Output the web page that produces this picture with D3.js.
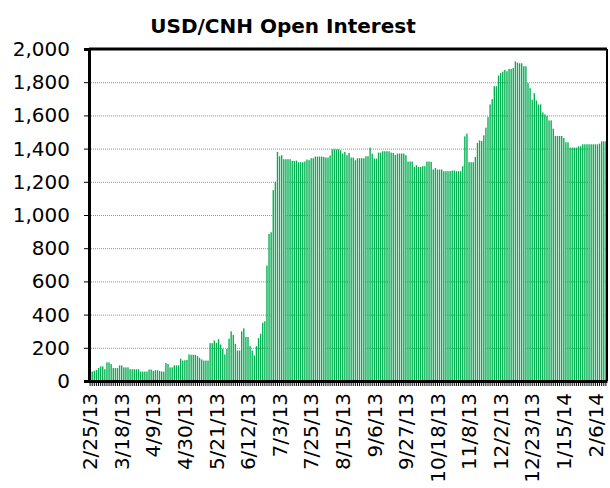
<!DOCTYPE html>
<html>
<head>
<meta charset="utf-8">
<script src="https://cdn.jsdelivr.net/npm/d3@7"></script>
<style>
  body { margin: 0; background: #fff; }
  svg { display: block; font-family: 'DejaVu Sans', Verdana, sans-serif; }
</style>
</head>
<body>
<svg id="chart" width="610" height="488"></svg>
<script>
// daily open interest, 2/25/13 .. mid Feb 2014
let openInterest = [
  57, 57, 61, 67, 78, 88, 88, 71, 112, 112,
  102, 78, 78, 78, 94, 94, 82, 82, 82, 71,
  71, 71, 71, 71, 57, 57, 57, 57, 69, 69,
  61, 65, 65, 61, 57, 57, 108, 102, 82, 82,
  94, 94, 94, 135, 123, 125, 127,
  160, 158, 158, 158, 150, 140, 130, 123, 123, 123,
  228, 228, 244, 230, 252, 220, 194, 160, 194, 255,
  299, 277, 224, 184, 184, 299, 317, 265, 265, 210,
  184, 154, 210, 258, 285, 351, 360,
  696, 886, 896, 1150, 1200,
  1380, 1354, 1360, 1336, 1336, 1336, 1336, 1326, 1326, 1328,
  1318, 1318, 1318, 1322, 1334, 1330, 1342, 1342, 1352, 1352,
  1352, 1352, 1350, 1346, 1346, 1358, 1396, 1396, 1396, 1396,
  1390, 1370, 1380, 1360, 1374, 1346, 1346, 1330, 1342, 1342,
  1342, 1342, 1354, 1354, 1406, 1370, 1340, 1340, 1376, 1376,
  1384, 1384, 1384, 1384, 1376, 1374, 1362, 1370, 1370, 1370,
  1370, 1360, 1322, 1322, 1322, 1290, 1300, 1290, 1290, 1294,
  1294, 1322, 1322,
  1320, 1274, 1284, 1274, 1274, 1274, 1264, 1264, 1264, 1264,
  1268, 1268, 1264, 1264, 1264, 1294, 1474, 1490, 1318, 1318,
  1318, 1350, 1434, 1450, 1446, 1480, 1526, 1590, 1666, 1698,
  1776, 1776, 1840, 1856, 1864, 1874, 1866, 1880, 1880, 1886,
  1926, 1918, 1914, 1914, 1896, 1896, 1794, 1764, 1694, 1734,
  1690, 1666, 1666, 1618, 1606, 1598, 1570, 1570, 1520, 1476,
  1476, 1476, 1476, 1464, 1438, 1438, 1406, 1406, 1406, 1406,
  1414, 1414, 1426, 1426, 1426, 1426, 1426, 1426, 1426, 1426,
  1430, 1444, 1444, 1444
]

// one label every 15 trading days
let dateLabels = ['2/25/13', '3/18/13', '4/9/13', '4/30/13', '5/21/13', '6/12/13',
  '7/3/13', '7/25/13', '8/15/13', '9/6/13', '9/27/13', '10/18/13', '11/8/13',
  '12/2/13', '12/23/13', '1/15/14', '2/6/14']
let labelStep = 15

let yTicks = [0, 200, 400, 600, 800, 1000, 1200, 1400, 1600, 1800, 2000]

let margin = {top: 49, right: 3, bottom: 107, left: 89}
let width = 610 - margin.left - margin.right
let height = 488 - margin.top - margin.bottom

let svg = d3.select('#chart')

svg.append('text')
    .attr('x', 283)
    .attr('y', 33)
    .attr('text-anchor', 'middle')
    .style('font-size', '20px')
    .style('font-weight', 'bold')
    .text('USD/CNH Open Interest')

let g = svg.append('g')
    .attr('transform', 'translate(' + margin.left + ',' + margin.top + ')')

let x = d3.scaleBand()
    .range([0, width])
    .domain(openInterest.map(function(d, i) { return i }))
    .paddingInner(0.35)
    .paddingOuter(0.2)

let y = d3.scaleLinear()
    .range([height, 0])
    .domain([0, 2000])

g.append('g')
    .selectAll('.bar')
    .data(openInterest)
  .enter().append('rect')
    .attr('class', 'bar')
    .attr('x', function(d, i) { return x(i) })
    .attr('y', function(d) { return y(d) })
    .attr('width', x.bandwidth())
    .attr('height', function(d) { return height - y(d) })
    .attr('fill', '#00b050')

// dotted gridlines sit on top of the bars
g.append('g')
    .selectAll('.grid')
    .data(yTicks.filter(function(d) { return d > 0 && d < 2000 }))
  .enter().append('line')
    .attr('class', 'grid')
    .attr('x1', 0)
    .attr('x2', width)
    .attr('y1', function(d) { return y(d) + 0.5 })
    .attr('y2', function(d) { return y(d) + 0.5 })
    .style('stroke', '#777')
    .style('stroke-width', 1)
    .style('stroke-dasharray', '1,1')
    .style('opacity', 0.8)

// frame: top and right
g.append('line')
    .attr('x1', 0).attr('x2', width)
    .attr('y1', y(2000)).attr('y2', y(2000))
    .style('stroke', '#000')
    .style('stroke-width', 3)

g.append('line')
    .attr('x1', width).attr('x2', width)
    .attr('y1', y(2000)).attr('y2', height)
    .style('stroke', '#000')
    .style('stroke-width', 2)

let yAxis = g.append('g')
    .attr('class', 'y axis')
    .call(d3.axisLeft(y).tickValues(yTicks).tickFormat(d3.format(',')).tickSize(5).tickPadding(14))

yAxis.select('.domain')
    .style('stroke-width', 3)

yAxis.selectAll('text')
    .style('font-size', '20px')
    .style('font-family', "'DejaVu Sans', Verdana, sans-serif")
    .attr('fill', '#000')

let xAxis = g.append('g')
    .attr('class', 'x axis')
    .attr('transform', 'translate(0,' + height + ')')
    .call(d3.axisBottom(x).tickSize(5).tickSizeOuter(0).tickFormat(function(d) {
      return d % labelStep === 0 ? dateLabels[d / labelStep] : ''
    }))

xAxis.select('.domain')
    .style('stroke-width', 3)

xAxis.selectAll('text')
    .attr('transform', 'rotate(-90)')
    .attr('x', -12)
    .attr('y', 0)
    .attr('dy', '0.36em')
    .style('text-anchor', 'end')
    .style('font-size', '20px')
    .style('font-family', "'DejaVu Sans', Verdana, sans-serif")
    .attr('fill', '#000')
</script>
</body>
</html>
